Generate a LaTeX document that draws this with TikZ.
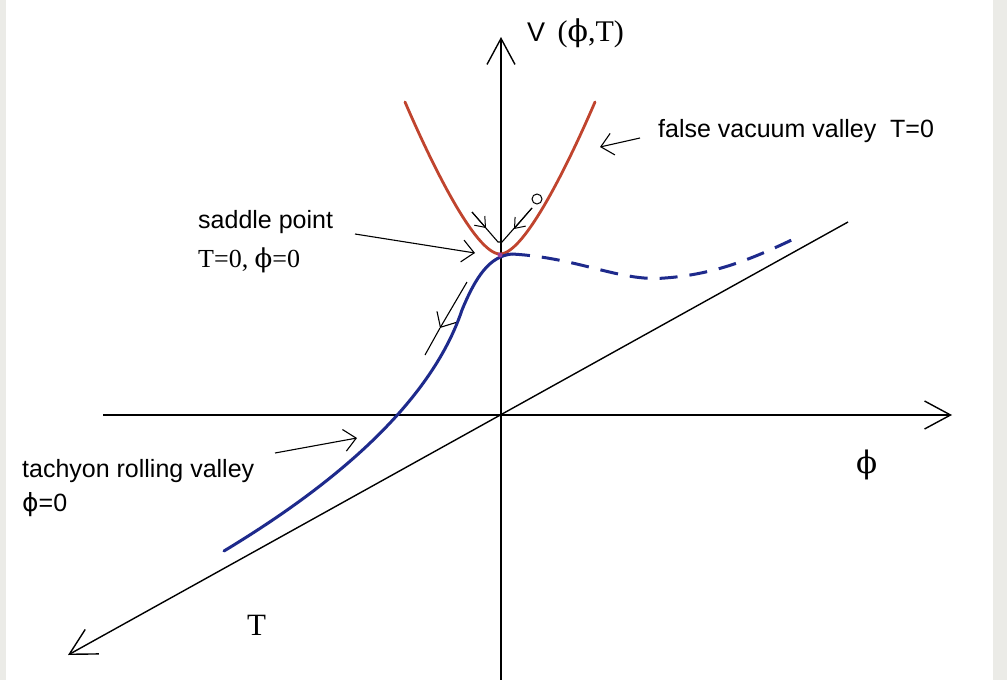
\documentclass[tikz,border=0pt]{standalone}
\usepackage{fontspec}
\setmainfont{Liberation Serif}
\newfontfamily\lsans{Liberation Sans}
\newfontfamily\dvserif{DejaVu Serif}
\newfontfamily\dvsans{DejaVu Sans}
\newcommand{\phisf}{{\dvsans\symbol{"03D5}}}
\newcommand{\phirm}{{\dvserif\symbol{"03D5}}}
\usetikzlibrary{arrows.meta}
\definecolor{bgc}{HTML}{EBEBE7}
\definecolor{redc}{HTML}{C0442E}
\definecolor{bluec}{HTML}{1E2A8C}
\definecolor{saddlec}{HTML}{9A3F9A}
\begin{document}
\begin{tikzpicture}[x=1pt,y=-1pt,
  axis/.style={line width=1.4pt, -{Straight Barb[length=26pt,width=28pt,line width=1.4pt]}},
  note/.style={line width=1.1pt, -{Straight Barb[length=12pt,width=22pt,line width=1.1pt]}},
  smallnote/.style={line width=1pt, -{Straight Barb[length=9pt,width=14pt,line width=1pt]}},
  thinline/.style={line width=1.1pt},
  redcurve/.style={redc, line width=2.8pt, line cap=round},
  bluecurve/.style={bluec, line width=3pt, line cap=round},
  lbl/.style={font=\lsans\fontsize{25}{30}\selectfont, anchor=base west, inner sep=0pt},
  slbl/.style={font=\fontsize{26}{30}\selectfont, anchor=base west, inner sep=0pt},
  axlbl/.style={font=\fontsize{31}{36}\selectfont, anchor=base west, inner sep=0pt}]
\fill[bgc] (0,0) rectangle (1007,680);
\fill[white] (6,0) rectangle (993,680);
\useasboundingbox (0,0) rectangle (1007,680);

% axes
\coordinate (O) at (501,415);
\coordinate (Vtop) at (501,37);
\coordinate (Vbot) at (501,680);
\coordinate (Hl) at (103,415);
\coordinate (Hr) at (952,415);
\coordinate (Tfar) at (848,222);
\coordinate (Tnear) at (68,655);
\draw[axis] (Vbot) -- (Vtop);
\draw[axis] (Hl) -- (Hr);
\draw[axis] (Tfar) -- (Tnear);

% false vacuum valley (red)
\draw[redcurve] (405,102) .. controls (430,160) and (475,254) .. (500,254)
                          .. controls (525,254) and (570,160) .. (595,102);

% tachyon rolling valley (blue solid)
\draw[bluecurve] (224,551) .. controls (300,505) and (425,420) .. (462,310)
                           .. controls (476,276) and (490,256) .. (512,254);
% dashed continuation
\draw[bluecurve, line cap=butt, dash pattern=on 18pt off 12pt]
  (512,254) .. controls (580,258) and (620,282) .. (665,278)
            .. controls (720,274) and (760,255) .. (798,237);

% saddle point marker
\fill[saddlec] (500,255) circle (2.5pt);

% labels
\node[slbl, font=\fontsize{30}{34}\selectfont] (Vlab) at (527,41) {{\lsans\fontsize{27}{30}\selectfont V}\ \,(\phirm,T)};
\node[lbl] (fv) at (658,137) {false vacuum valley\ \ T=0};
\node[lbl] (sp) at (198,228) {saddle point};
\node[slbl] (sp2) at (198,267) {T=0, \phirm=0};
\node[lbl] (tr) at (22,477) {tachyon rolling valley};
\node[lbl] (tr2) at (22,511) {\phisf=0};
\node[axlbl] (Tlab) at (247,635) {T};
\node[axlbl] (phlab) at (856,473) {\phirm};

% annotation arrows
\coordinate (fvA) at (640,138);
\coordinate (fvB) at (600,147);
\draw[note] (fvA) -- (fvB);
\coordinate (spA) at (355,234);
\coordinate (spB) at (475,253);
\draw[note] (spA) -- (spB);
\coordinate (trA) at (275,453);
\coordinate (trB) at (357,438);
\draw[note] (trA) -- (trB);
% rolling direction arrow
\coordinate (rA) at (467,282);
\coordinate (rM) at (440,328);
\coordinate (rB) at (425,355);
\draw[note] (rA) -- (rM);
\draw[thinline] (rM) -- (rB);
% V-shaped arrows into the valley
\coordinate (vL) at (472,212);
\coordinate (vLm) at (486,228);
\coordinate (vR) at (532,208);
\coordinate (vRm) at (514,229);
\draw[thinline] (vL) -- (498,242) -- (502,242) -- (vR);
\draw[smallnote] (vL) -- (vLm);
\draw[smallnote] (vR) -- (vRm);
\draw[line width=1pt] (537,199) circle (5pt);
\end{tikzpicture}
\end{document}
